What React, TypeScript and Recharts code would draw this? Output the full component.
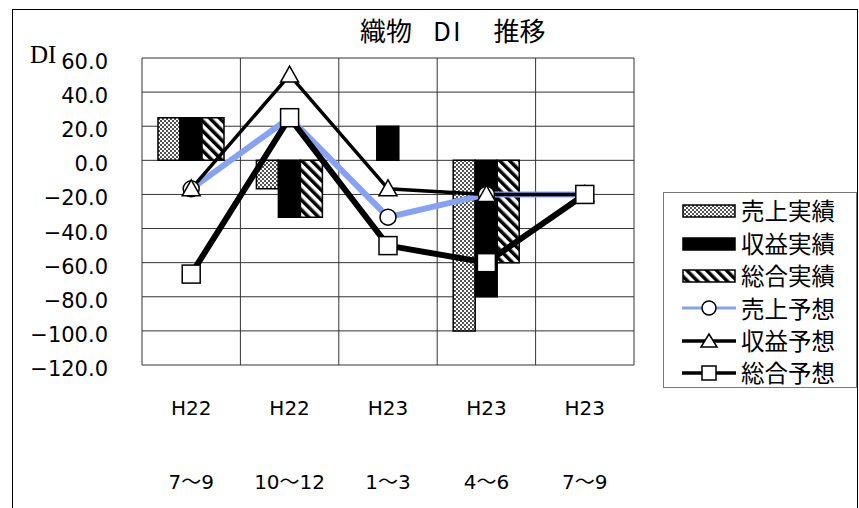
import React from "react";
import {
  ComposedChart,
  Bar,
  Line,
  XAxis,
  YAxis,
  CartesianGrid,
  Legend
} from "recharts";

const periods = ["H22\n7〜9", "H22\n10〜12", "H23\n1〜3", "H23\n4〜6", "H23\n7〜9"];
const salesActual = [25, -16.7, 0, -100, null];
const profitActual = [25, -33.3, 20, -80, null];
const totalActual = [25, -33.3, 0, -60, null];
const salesForecast = [-16.7, 25, -33.3, -20, -20];
const profitForecast = [-16.7, 50, -16.7, -20, -20];
const totalForecast = [-66.7, 25, -50, -60, -20];
const yTicks = [60, 40, 20, 0, -20, -40, -60, -80, -100, -120];

const data = periods.map((p, i) => ({
  period: p,
  salesActual: salesActual[i],
  profitActual: profitActual[i],
  totalActual: totalActual[i],
  salesForecast: salesForecast[i],
  profitForecast: profitForecast[i],
  totalForecast: totalForecast[i]
}));

const FONT = '"Noto Sans CJK JP", "Noto Sans", sans-serif';
const NUM_FONT = '"DejaVu Sans", "Noto Sans CJK JP", sans-serif';

const fmt = (v: number) => (v < 0 ? "\u2212" + Math.abs(v).toFixed(1) : v.toFixed(1));

const YTick = (props: any) => {
  const { x, y, payload } = props;
  return (
    <text x={x - 28} y={y} dy={11} textAnchor="end" fontSize={21} fontFamily={NUM_FONT} fill="#000">
      {fmt(payload.value)}
    </text>
  );
};

const XTick = (props: any) => {
  const { x, y, payload } = props;
  const [a, b] = String(payload.value).split("\n");
  return (
    <g fontSize={20} fontFamily={NUM_FONT} fill="#000">
      <text x={x} y={y + 42} textAnchor="middle">
        {a}
      </text>
      <text x={x} y={y + 116} textAnchor="middle">
        {b}
      </text>
    </g>
  );
};

const Triangle = (props: any) => {
  const { cx, cy } = props;
  if (cx == null || cy == null) return null;
  return (
    <path
      d={`M${cx},${cy - 9} L${cx + 9},${cy + 7} L${cx - 9},${cy + 7} Z`}
      fill="#fff"
      stroke="#000"
      strokeWidth={1.5}
    />
  );
};

const Square = (props: any) => {
  const { cx, cy } = props;
  if (cx == null || cy == null) return null;
  return <rect x={cx - 9} y={cy - 9} width={18} height={18} fill="#fff" stroke="#000" strokeWidth={1.5} />;
};

const BLUE = "#86a2f5";

const legendItems = [
  { name: "売上実績", kind: "bar", fill: "url(#dots)" },
  { name: "収益実績", kind: "bar", fill: "#000" },
  { name: "総合実績", kind: "bar", fill: "url(#stripes)" },
  { name: "売上予想", kind: "circle" },
  { name: "収益予想", kind: "triangle" },
  { name: "総合予想", kind: "square" }
];

const LegendIcon = ({ item }: { item: any }) => {
  if (item.kind === "bar") {
    return (
      <svg width={54} height={16}>
        <rect x={1} y={2} width={52} height={12} fill={item.fill} stroke="#000" strokeWidth={1.5} />
      </svg>
    );
  }
  if (item.kind === "circle") {
    return (
      <svg width={54} height={20}>
        <line x1={0} y1={10} x2={54} y2={10} stroke={BLUE} strokeWidth={3} />
        <circle cx={27} cy={10} r={7} fill="#fff" stroke="#000" strokeWidth={1.5} />
      </svg>
    );
  }
  return (
    <svg width={54} height={20}>
      <line x1={0} y1={10} x2={54} y2={10} stroke="#000" strokeWidth={3.5} />
      {item.kind === "triangle" ? (
        <path d="M27,3 L35,16 L19,16 Z" fill="#fff" stroke="#000" strokeWidth={1.5} />
      ) : (
        <rect x={20} y={3} width={14} height={14} fill="#fff" stroke="#000" strokeWidth={1.5} />
      )}
    </svg>
  );
};

const renderLegend = () => (
  <div
    style={{
      border: "1px solid #777",
      background: "#fff",
      padding: "2px 0 0 18px",
      boxSizing: "border-box",
      width: 194,
      height: 196,
      fontFamily: FONT
    }}
  >
    {legendItems.map((item) => (
      <div key={item.name} style={{ display: "flex", alignItems: "center", height: 32.4 }}>
        <LegendIcon item={item} />
        <span style={{ fontSize: 23.5, marginLeft: 5, lineHeight: 1, whiteSpace: "nowrap" }}>{item.name}</span>
      </div>
    ))}
  </div>
);

export default function App() {
  return (
    <div style={{ position: "absolute", left: 0, top: 0, width: 859, height: 508, overflow: "hidden", background: "#fff" }}>
      <div
        style={{
          position: "absolute",
          left: 12,
          top: 9,
          width: 844,
          height: 560,
          border: "1.5px solid #000"
        }}
      />
      <div
        style={{
          position: "absolute",
          left: 360,
          top: 15,
          fontSize: 26,
          lineHeight: "30px",
          fontFamily: FONT,
          whiteSpace: "pre",
          display: "flex"
        }}
      >
        <span>織物</span>
        <span style={{ marginLeft: 21, letterSpacing: 2 }}>DI</span>
        <span style={{ marginLeft: 31 }}>推移</span>
      </div>
      <div
        style={{
          position: "absolute",
          left: 30,
          top: 41,
          fontSize: 25,
          lineHeight: "28px",
          fontFamily: '"Liberation Serif", serif'
        }}
      >
        DI
      </div>
      <ComposedChart
        width={859}
        height={508}
        data={data}
        margin={{ top: 58, right: 225, bottom: 23, left: 42 }}
        barCategoryGap={16}
        barGap={0}
        style={{ position: "absolute", left: 0, top: 0 }}
      >
        <defs>
          <pattern id="dots" width="4" height="4" patternUnits="userSpaceOnUse">
            <rect width="4" height="4" fill="#fff" />
            <circle cx="1" cy="1" r="0.9" fill="#000" />
            <circle cx="3" cy="3" r="0.9" fill="#000" />
          </pattern>
          <pattern id="stripes" width="7" height="7" patternUnits="userSpaceOnUse" patternTransform="rotate(-45)">
            <rect width="7" height="7" fill="#fff" />
            <rect width="3.5" height="7" fill="#000" />
          </pattern>
        </defs>
        <CartesianGrid
          stroke="#333"
          strokeWidth={1}
          verticalCoordinatesGenerator={({ offset }: any) =>
            [...periods, ""].map((_, i) => offset.left + (i * offset.width) / periods.length)
          }
        />
        <XAxis
          dataKey="period"
          height={120}
          axisLine={false}
          tickLine={false}
          tick={<XTick />}
          interval={0}
        />
        <YAxis
          width={100}
          domain={[-120, 60]}
          ticks={yTicks}
          axisLine={false}
          tickLine={false}
          tickMargin={0}
          tick={<YTick />}
          interval={0}
        />
        <Legend
          layout="vertical"
          align="center"
          verticalAlign="middle"
          content={renderLegend}
          wrapperStyle={{ left: 663, top: 192, width: 194, height: 196 }}
        />
        <Bar dataKey="salesActual" name="売上実績" fill="url(#dots)" stroke="#000" strokeWidth={1.5} isAnimationActive={false} />
        <Bar dataKey="profitActual" name="収益実績" fill="#000" stroke="#000" strokeWidth={1.5} isAnimationActive={false} />
        <Bar dataKey="totalActual" name="総合実績" fill="url(#stripes)" stroke="#000" strokeWidth={1.5} isAnimationActive={false} />
        <Line
          dataKey="salesForecast"
          name="売上予想"
          stroke={BLUE}
          strokeWidth={6}
          dot={{ r: 8, fill: "#fff", stroke: "#000", strokeWidth: 1.5 }}
          isAnimationActive={false}
        />
        <Line
          dataKey="profitForecast"
          name="収益予想"
          stroke="#000"
          strokeWidth={3.5}
          dot={<Triangle />}
          isAnimationActive={false}
        />
        <Line
          dataKey="totalForecast"
          name="総合予想"
          stroke="#000"
          strokeWidth={6}
          dot={<Square />}
          isAnimationActive={false}
        />
      </ComposedChart>
    </div>
  );
}
